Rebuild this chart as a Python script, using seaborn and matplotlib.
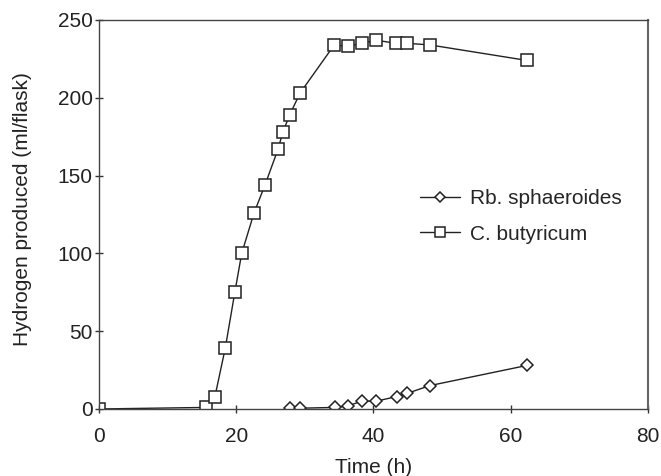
import matplotlib
matplotlib.use("Agg")
import matplotlib.pyplot as plt
import seaborn as sns

# Rb. sphaeroides
rb_time = [27.8, 29.3, 34.4, 36.3, 38.3, 40.4, 43.4, 44.9, 48.2, 62.4]
rb_h2 = [0.5, 0.5, 1, 2, 5, 5, 8, 10, 15, 28]

# C. butyricum
cb_time = [0, 15.6, 16.9, 18.4, 19.8, 20.8, 22.6, 24.2, 26.1, 26.8, 27.8, 29.3,
           34.3, 36.3, 38.3, 40.4, 43.3, 44.9, 48.2, 62.4]
cb_h2 = [0, 1, 8, 39, 75, 100, 126, 144, 167, 178, 189, 203,
         234, 233, 235, 237, 235, 235, 234, 224]

sns.set_style("white")
plt.rcParams['font.family'] = ['Liberation Sans', 'DejaVu Sans']

fig = plt.figure(figsize=(6.61, 4.76), dpi=100)
ax = fig.add_axes([0.1498, 0.1408, 0.8302, 0.8172])

sns.lineplot(x=rb_time, y=rb_h2, ax=ax, color='#222222', lw=1, marker='D',
             ms=6, mfc='white', mec='#222222', mew=1.1, label='Rb. sphaeroides')
sns.lineplot(x=cb_time, y=cb_h2, ax=ax, color='#222222', lw=1, marker='s',
             ms=8.5, mfc='white', mec='#222222', mew=1.1, label='C. butyricum')

ax.set_xlim(0, 80)
ax.set_ylim(0, 250)
ax.set_xticks([0, 20, 40, 60, 80])
ax.set_yticks([0, 50, 100, 150, 200, 250])
ax.tick_params(bottom=True, left=True, direction='inout', length=6, width=1,
               color='#333333', labelsize=15, labelcolor='#222222')
ax.tick_params(axis='x', pad=10)
ax.tick_params(axis='y', pad=1.5)
for s in ax.spines.values():
    s.set_color('#444444')
    s.set_linewidth(1)
ax.spines['right'].set_color('#666666')
ax.spines['right'].set_linewidth(1.5)

ax.set_xlabel('Time (h)', fontsize=15, color='#222222')
ax.set_ylabel('Hydrogen produced (ml/flask)', fontsize=15, color='#222222')
ax.xaxis.set_label_coords(0.501, -0.125)
ax.yaxis.set_label_coords(-0.122, 0.514)

ax.legend(loc='center left', bbox_to_anchor=(0.585, 0.495), frameon=False,
          fontsize=15, handlelength=1.9, handletextpad=0.5, labelspacing=0.8,
          borderpad=0, borderaxespad=0, markerscale=0.8)

fig.savefig('out.png', dpi=100)
